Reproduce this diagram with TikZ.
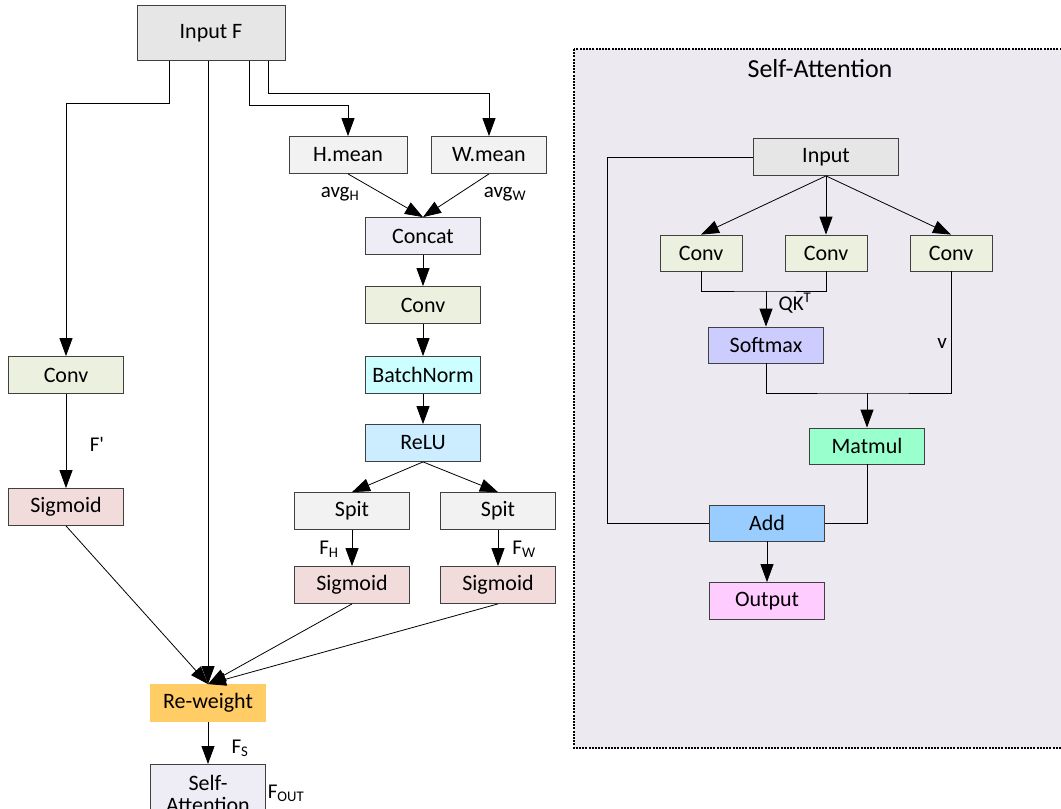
\documentclass[tikz,border=0pt]{standalone}
\usepackage{fontspec}
\setmainfont{Carlito}
\usetikzlibrary{arrows.meta, positioning, calc}
\definecolor{ingray}{HTML}{E7E6E6}
\definecolor{ltgray}{HTML}{F2F2F2}
\definecolor{lavend}{HTML}{EEECF4}
\definecolor{panelbg}{HTML}{ECE9F0}
\definecolor{convgrn}{HTML}{EBF1DE}
\definecolor{bncyan}{HTML}{CCFFFF}
\definecolor{relublu}{HTML}{CCECFF}
\definecolor{sigpink}{HTML}{F2DCDB}
\definecolor{rworange}{HTML}{FFCC66}
\definecolor{smviolet}{HTML}{CCCCFF}
\definecolor{mmgreen}{HTML}{99FFCC}
\definecolor{addblue}{HTML}{99CCFF}
\definecolor{outpink}{HTML}{FFCCFF}
\tikzset{%
   blk/.style={
      rectangle,
      draw=black!75,
      line width=0.8pt,
      minimum width=115pt,
      minimum height=37pt,
      inner sep=0pt,
      font=\fontsize{22}{25}\selectfont
   },
   smallblk/.style={
      blk,
      minimum width=82pt,
      minimum height=36pt
   },
   wire/.style={
      line width=0.8pt
   },
   arr/.style={
      wire,
      -{Triangle[length=18pt,width=13pt]}
   },
   lbl/.style={
      inner sep=0pt,
      font=\fontsize{21}{24}\selectfont
   },
   panel/.style={
      fill=panelbg,
      draw=black,
      line width=1.3pt,
      dash pattern=on 2pt off 1.2pt
   },
}

\begin{document}
\begin{tikzpicture}[x=1pt, y=-1pt]
    \clip (0,0) rectangle (1061,809);
    \fill[white] (0,0) rectangle (1061,809);
    % self-attention panel
    \draw[panel] (574,49) rectangle (1066,748);
    \node[lbl, font=\fontsize{26}{29}\selectfont] (satitle) at (820,69) {Self-Attention};

    % left branch
    \node[blk, fill=ingray, minimum width=148pt, minimum height=55pt] (inF) at (211,33) {Input F};
    \node[blk, fill=ltgray, minimum width=118pt] (hm) at (348,155) {H.mean};
    \node[blk, fill=ltgray] (wm) at (489,155) {W.mean};
    \node[blk, fill=lavend] (cat) at (423,236) {Concat};
    \node[blk, fill=convgrn] (convM) at (423,305) {Conv};
    \node[blk, fill=bncyan] (bn) at (423,375) {BatchNorm};
    \node[blk, fill=relublu] (relu) at (423,443) {ReLU};
    \node[blk, fill=ltgray] (spH) at (352,511) {Spit};
    \node[blk, fill=ltgray] (spW) at (498,511) {Spit};
    \node[blk, fill=sigpink] (sgH) at (352,585) {Sigmoid};
    \node[blk, fill=sigpink] (sgW) at (498,585) {Sigmoid};
    \node[blk, fill=convgrn] (convL) at (66,375) {Conv};
    \node[blk, fill=sigpink] (sgL) at (66,507) {Sigmoid};
    \node[blk, fill=rworange, draw=rworange] (rw) at (208,703) {Re-weight};
    \node[blk, fill=lavend, anchor=north, align=center, inner ysep=1pt,
          minimum height=60pt] (sa) at (208,764) {Self-\\[-3pt]Attention};

    \draw[arr] ([xshift=-42pt]inF.south) -- ++(0,42) -| (convL.north);
    \draw[arr] (inF.south -| rw.north) -- (rw.north);
    \draw[arr] ([xshift=38pt]inF.south) -- ++(0,44) -| (hm.north);
    \draw[arr] ([xshift=57pt]inF.south) -- ++(0,32) -| (wm.north);
    \draw[arr] (hm.south) -- (cat.north);
    \draw[arr] (wm.south) -- (cat.north);
    \draw[arr] (cat) -- (convM);
    \draw[arr] (convM) -- (bn);
    \draw[arr] (bn) -- (relu);
    \draw[arr] (relu.south) -- (spH.north);
    \draw[arr] (relu.south) -- (spW.north);
    \draw[arr] (spH) -- (sgH);
    \draw[arr] (spW) -- (sgW);
    \draw[arr] (convL) -- (sgL);
    \draw[arr] (sgL.south) -- (rw.north);
    \draw[arr] (sgH.south) -- (rw.north);
    \draw[arr] (sgW.south) -- (rw.north);
    \draw[arr] (rw) -- (sa);

    \node[lbl] (avgH) at (340,194) {avg\textsubscript{H}};
    \node[lbl] (avgW) at (505,194) {avg\textsubscript{W}};
    \node[lbl] (fp) at (97,444) {F\textquotesingle};
    \node[lbl] (fH) at (329,549) {F\textsubscript{H}};
    \node[lbl] (fW) at (524,549) {F\textsubscript{W}};
    \node[lbl] (fS) at (240,748) {F\textsubscript{S}};
    \node[lbl] (fOut) at (286,793) {F\textsubscript{OUT}};

    % attention block
    \node[blk, fill=ingray, minimum width=145pt] (inp) at (826,157) {Input};
    \node[smallblk, fill=convgrn] (c1) at (701,253) {Conv};
    \node[smallblk, fill=convgrn] (c2) at (826,253) {Conv};
    \node[smallblk, fill=convgrn] (c3) at (951,253) {Conv};
    \node[blk, fill=smviolet, minimum height=36pt] (sm) at (766,345) {Softmax};
    \node[blk, fill=mmgreen, minimum height=36pt] (mm) at (867,446) {Matmul};
    \node[blk, fill=addblue, minimum height=36pt] (add) at (767,523) {Add};
    \node[blk, fill=outpink] (out) at (767,601) {Output};
    \coordinate (qk) at (766,291);
    \coordinate (mv) at (867,393);

    \draw[arr] (inp.south) -- (c1.north);
    \draw[arr] (inp.south) -- (c2.north);
    \draw[arr] (inp.south) -- (c3.north);
    \draw[wire] (c1.south) |- (qk) -| (c2.south);
    \draw[arr] (qk) -- (sm.north);
    \draw[wire] (sm.south) |- (mv) -| (c3.south);
    \draw[arr] (mv) -- (mm.north);
    \draw[wire] (mm.south) |- (add.east);
    \draw[wire] (inp.west) -- ++(-146,0) |- (add.west);
    \draw[arr] (add) -- (out);

    \node[lbl] (qkt) at (795,303) {QK\textsuperscript{T}};
    \node[lbl] (vl) at (942,343) {v};
\end{tikzpicture}
\end{document}
